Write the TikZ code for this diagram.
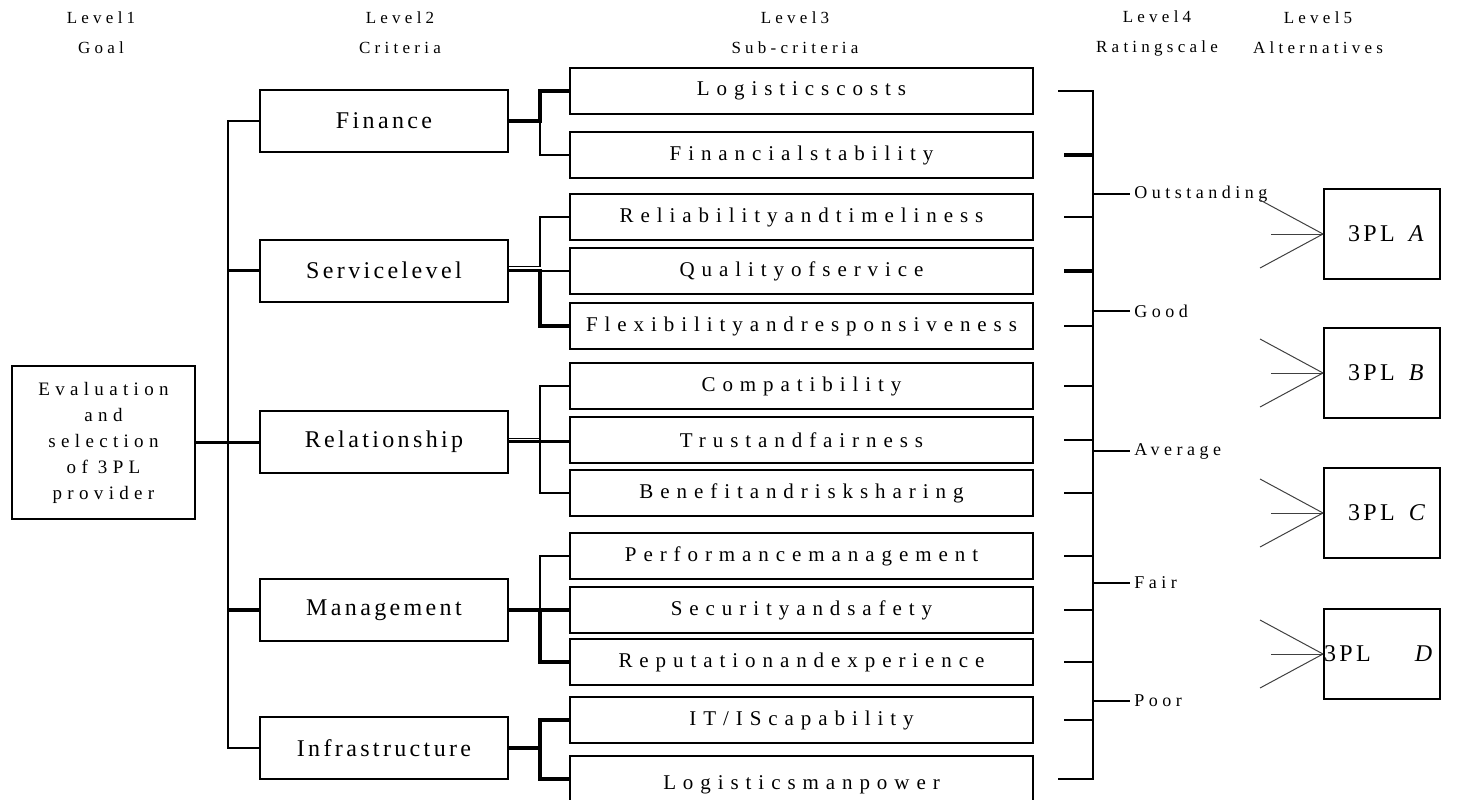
\documentclass[tikz,border=0pt]{standalone}
\usepackage{fontspec}
\setmainfont{Liberation Serif}
\newfontfamily\wideserif[LetterSpace=33]{Liberation Serif}
\newfontfamily\midserif[LetterSpace=25]{Liberation Serif}
\newfontfamily\goalserif[LetterSpace=28]{Liberation Serif}
\newfontfamily\narrowserif[LetterSpace=14]{Liberation Serif}
\newcommand\lvlfont{\midserif\fontsize{8.5}{15}\selectfont}
\newcommand\goalfont{\goalserif\fontsize{9.5}{13}\selectfont}
\newcommand\critfont{\narrowserif\fontsize{12}{14}\selectfont}
\newcommand\subfont{\wideserif\fontsize{10.5}{12}\selectfont}
\newcommand\ratefont{\midserif\fontsize{9}{11}\selectfont}
\newcommand\altfont{\narrowserif\fontsize{12}{14}\selectfont}
\usepackage{tikz}

\begin{document}
\begin{tikzpicture}[x=0.5pt,y=-0.5pt,
    goalbox/.style={draw,line width=1pt,minimum width=91.5pt,minimum height=76.5pt,inner sep=0pt,align=center,font=\goalfont},
    critbox/.style={draw,line width=1pt,minimum width=124pt,minimum height=31pt,inner sep=0pt,font=\critfont},
    subbox/.style={draw,line width=1pt,minimum width=231.5pt,minimum height=23pt,inner sep=0pt,font=\subfont},
    altbox/.style={draw,line width=1pt,minimum width=58pt,minimum height=45pt,inner xsep=12pt,text width=34pt,align=left,font=\altfont},
    lvl/.style={font=\lvlfont,align=center,inner sep=0pt},
    rate/.style={font=\ratefont,anchor=west,inner sep=2pt},
    link/.style={line width=0.7pt},
    boldlink/.style={line width=1.7pt},
    fan/.style={line width=0.5pt,black!75}]

        \useasboundingbox (0,0) rectangle (1460,799);

        %見出し
        \node[lvl] (lv1) at (101,33) {Level1\\Goal};
        \node[lvl] (lv2) at (400,33) {Level2\\Criteria};
        \node[lvl] (lv3) at (795,33) {Level3\\Sub-criteria};
        \node[lvl] (lv4) at (1157,33) {Level4\\Ratingscale};
        \node[lvl] (lv5) at (1318,33) {Level5\\Alternatives};

        %目標と基準
        \node[goalbox] (goal) at (103.5,442.5) {Evaluation\\and\\selection\\of 3PL\\provider};
        \node[critbox] (fin) at (384,121) {Finance};
        \node[critbox] (svc) at (384,270.5) {Servicelevel};
        \node[critbox] (rel) at (384,441.5) {Relationship};
        \node[critbox] (mgt) at (384,610) {Management};
        \node[critbox] (inf) at (384,748) {Infrastructure};

        %下位基準
        \node[subbox] (lc) at (801.5,91) {Logisticscosts};
        \node[subbox] (fs) at (801.5,155) {Financialstability};
        \node[subbox] (ra) at (801.5,217) {Reliabilityandtimeliness};
        \node[subbox] (qs) at (801.5,271) {Qualityofservice};
        \node[subbox] (fr) at (801.5,326) {Flexibilityandresponsiveness};
        \node[subbox] (cp) at (801.5,386) {Compatibility};
        \node[subbox] (tf) at (801.5,440) {Trustandfairness};
        \node[subbox] (br) at (801.5,493) {Benefitandrisksharing};
        \node[subbox] (pm) at (801.5,556) {Performancemanagement};
        \node[subbox] (ss) at (801.5,610) {Securityandsafety};
        \node[subbox] (re) at (801.5,662) {Reputationandexperience};
        \node[subbox] (it) at (801.5,720) {IT/IScapability};
        \node[subbox] (lm) at (801.5,779) {\raisebox{-5pt}[0pt][0pt]{Logisticsmanpower}}; %下が切れている

        \coordinate (trunk) at (228,0); %縦の幹
        \coordinate (fork) at (540,0);
        \coordinate (endx) at (1058,0);
        \coordinate (tickx) at (1064,0);
        \coordinate (scale) at (1093,0);

        %目標から基準へ
        \draw[link] (fin.west) -| (trunk |- inf.west) -- (inf.west);
        \draw[boldlink] (trunk |- svc.west) -- (svc.west);
        \draw[boldlink] (goal.east) -- (goal.east -| rel.west);
        \draw[boldlink] (trunk |- mgt.west) -- (mgt.west);

        %基準から下位基準へ
        \draw[boldlink] (fin.east) -| (fork |- lc.west) -- (lc.west);
        \draw[link] (fork |- fin.east) |- (fs.west);
        \draw[link] ([yshift=2pt]svc.east) -| (fork |- ra.west) -- (ra.west);
        \draw[link] (fork |- qs.west) -- (qs.west);
        \draw[boldlink] (svc.east) -| (fork |- fr.west) -- (fr.west);
        \draw[link] ([yshift=1.5pt]rel.east) -- ([yshift=1.5pt]rel.east -| fork);
        \draw[boldlink] (rel.east) -- (rel.east -| tf.west);
        \draw[link] (cp.west) -| (fork |- br.west) -- (br.west);
        \draw[boldlink] (mgt.east) -- (mgt.east -| ss.west);
        \draw[boldlink] (fork |- mgt.east) |- (re.west);
        \draw[link] (fork |- mgt.east) |- (pm.west);
        \draw[boldlink] (inf.east) -- (inf.east -| fork);
        \draw[boldlink] (it.west) -| (fork |- lm.west) -- (lm.west);

        %評価尺度
        \draw[line width=1pt] (endx |- lc.east) -| (scale |- lm.east) -- (endx |- lm.east);
        \foreach \s in {ra,fr,cp,tf,br,pm,ss,re,it}
            \draw[link] (tickx |- \s.east) -- (scale |- \s.east);
        \foreach \s in {fs,qs}
            \draw[boldlink] (tickx |- \s.east) -- (scale |- \s.east);
        \node[rate] (out) at (1130,194) {Outstanding};
        \node[rate] (good) at (1130,311) {Good};
        \node[rate] (avg) at (1130,451) {Average};
        \node[rate] (fair) at (1130,583) {Fair};
        \node[rate] (poor) at (1130,701) {Poor};
        \foreach \r in {out,good,avg,fair,poor}
            \draw[link] (scale |- \r.west) -- (\r.west);

        %代替案
        \node[altbox] (alta) at (1382,234) {\rlap{3PL\hspace{7pt}\textit{A}}};
        \node[altbox] (altb) at (1382,373) {\rlap{3PL\hspace{7pt}\textit{B}}};
        \node[altbox] (altc) at (1382,513) {\rlap{3PL\hspace{7pt}\textit{C}}};
        \node[altbox] (altd) at (1382,654) {\hspace*{-12pt}\rlap{3PL\hspace{22pt}\textit{D}}};
        \foreach \a in {alta,altb,altc,altd}{
            \draw[fan] (\a.west) -- ++(-63,-34);
            \draw[fan] (\a.west) -- ++(-52,0);
            \draw[fan] (\a.west) -- ++(-63,34);
        }
\end{tikzpicture}
\end{document}
